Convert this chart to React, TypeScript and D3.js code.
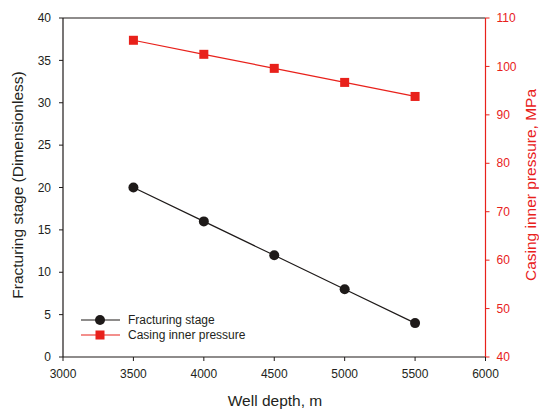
import React from "react";
import * as d3 from "d3";

const depths = [3500, 4000, 4500, 5000, 5500];
const fracturingStage = [20, 16, 12, 8, 4];
const casingPressure = [105.4, 102.5, 99.6, 96.7, 93.8];
const xTicks = [3000, 3500, 4000, 4500, 5000, 5500, 6000];
const yLeftTicks = [0, 5, 10, 15, 20, 25, 30, 35, 40];
const yRightTicks = [40, 50, 60, 70, 80, 90, 100, 110];

const W = 539;
const H = 411;
const M = { left: 63, right: 485.5, top: 18, bottom: 357 };
const RED = "#e8211b";
const BLACK = "#1e1a19";
const FONT = "'Liberation Sans', Arial, sans-serif";

export default function App() {
  const x = d3.scaleLinear().domain([3000, 6000]).range([M.left, M.right]);
  const yL = d3.scaleLinear().domain([0, 40]).range([M.bottom, M.top]);
  const yR = d3.scaleLinear().domain([40, 110]).range([M.bottom, M.top]);

  const blackLine = d3.line<number>().x((_, i) => x(depths[i])).y((d) => yL(d))(fracturingStage) || "";
  const redLine = d3.line<number>().x((_, i) => x(depths[i])).y((d) => yR(d))(casingPressure) || "";

  return (
    <svg width={W} height={H} style={{ position: "absolute", left: 0, top: 0, fontFamily: FONT }}>
      <rect width={W} height={H} fill="#fff" />
      {/* frame */}
      <line x1={M.left} x2={M.right} y1={M.top} y2={M.top} stroke={BLACK} strokeWidth={1.2} />
      <line x1={M.left} x2={M.right} y1={M.bottom} y2={M.bottom} stroke={BLACK} strokeWidth={1.2} />
      <line x1={M.left} x2={M.left} y1={M.top} y2={M.bottom} stroke={BLACK} strokeWidth={1.2} />
      <line x1={M.right} x2={M.right} y1={M.top} y2={M.bottom} stroke={RED} strokeWidth={1.2} />

      {/* left axis */}
      {yLeftTicks.map((t) => (
        <g key={"l" + t}>
          <line x1={M.left - 4} x2={M.left} y1={yL(t)} y2={yL(t)} stroke={BLACK} strokeWidth={1} />
          <text x={M.left - 12} y={yL(t)} dy="0.35em" textAnchor="end" fontSize={12} fill="#231f20">
            {t}
          </text>
        </g>
      ))}
      {/* right axis */}
      {yRightTicks.map((t) => (
        <g key={"r" + t}>
          <line x1={M.right} x2={M.right + 4} y1={yR(t)} y2={yR(t)} stroke={RED} strokeWidth={1} />
          <text x={M.right + 11} y={yR(t)} dy="0.35em" textAnchor="start" fontSize={12} fill={RED}>
            {t}
          </text>
        </g>
      ))}
      {/* bottom axis */}
      {xTicks.map((t) => (
        <g key={"x" + t}>
          <line x1={x(t)} x2={x(t)} y1={M.bottom} y2={M.bottom + 4} stroke={BLACK} strokeWidth={1} />
          <text x={x(t)} y={M.bottom + 17} dy="0.35em" textAnchor="middle" fontSize={12} fill="#231f20">
            {t}
          </text>
        </g>
      ))}

      {/* titles */}
      <text x={275} y={406} textAnchor="middle" fontSize={15.5} fill="#231f20">
        Well depth, m
      </text>
      <text
        transform={`translate(23,185) rotate(-90)`}
        textAnchor="middle"
        fontSize={15.5}
        fill="#231f20"
      >
        Fracturing stage (Dimensionless)
      </text>
      <text
        transform={`translate(531,185) rotate(-90)`}
        textAnchor="middle"
        dy="0.35em"
        fontSize={15.5}
        fill={RED}
      >
        Casing inner pressure, MPa
      </text>

      {/* series */}
      <path d={redLine} fill="none" stroke={RED} strokeWidth={1.2} />
      {casingPressure.map((v, i) => (
        <rect key={"s" + i} x={x(depths[i]) - 4.5} y={yR(v) - 4.5} width={9} height={9} fill={RED} />
      ))}
      <path d={blackLine} fill="none" stroke={BLACK} strokeWidth={1.2} />
      {fracturingStage.map((v, i) => (
        <circle key={"c" + i} cx={x(depths[i])} cy={yL(v)} r={5} fill={BLACK} />
      ))}

      {/* legend */}
      <g>
        <line x1={81} x2={120} y1={320} y2={320} stroke={BLACK} strokeWidth={1.2} />
        <circle cx={100} cy={320} r={5} fill={BLACK} />
        <text x={128} y={320} dy="0.35em" fontSize={12} fill="#231f20">
          Fracturing stage
        </text>
        <line x1={81} x2={120} y1={335} y2={335} stroke={RED} strokeWidth={1.2} />
        <rect x={95.5} y={330.5} width={9} height={9} fill={RED} />
        <text x={128} y={335} dy="0.35em" fontSize={12} fill="#231f20">
          Casing inner pressure
        </text>
      </g>
    </svg>
  );
}
